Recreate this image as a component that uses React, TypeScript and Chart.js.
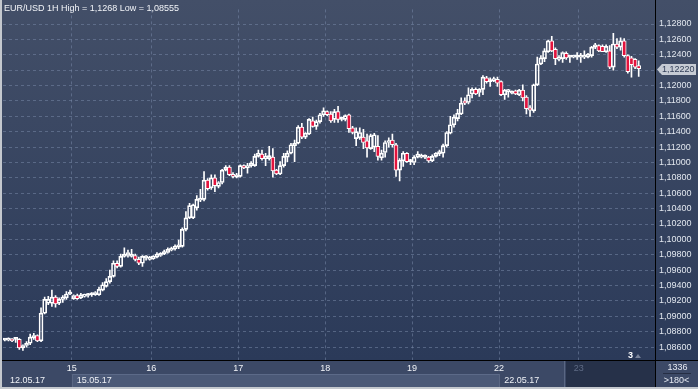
import React, { useEffect, useRef } from 'react';
import { Chart, registerables } from 'chart.js';

Chart.register(...registerables);

const TITLE = 'EUR/USD 1H High = 1,1268 Low = 1,08555';

const OPEN = [
  1.0869, 1.0869, 1.0870, 1.0870, 1.0870, 1.0859, 1.0862, 1.0865, 1.0872, 1.0875,
  1.0868, 1.0904, 1.0917, 1.0917, 1.0925, 1.0917, 1.0922, 1.0924, 1.0929, 1.0923,
  1.0927, 1.0924, 1.0926, 1.0927, 1.0928, 1.0928, 1.0928, 1.0934, 1.0939, 1.0945,
  1.0952, 1.0969, 1.0965, 1.0978, 1.0979, 1.0978, 1.0979, 1.0974, 1.0969, 1.0976,
  1.0974, 1.0975, 1.0977, 1.0979, 1.0981, 1.0983, 1.0986, 1.0988, 1.0990, 1.0991,
  1.1013, 1.1028, 1.1028, 1.1041, 1.1051, 1.1052, 1.1077, 1.1067, 1.1080, 1.1069,
  1.1074, 1.1090, 1.1094, 1.1084, 1.1081, 1.1082, 1.1096, 1.1093, 1.1096, 1.1096,
  1.1108, 1.1111, 1.1105, 1.1105, 1.1107, 1.1090, 1.1085, 1.1096, 1.1107, 1.1112,
  1.1122, 1.1125, 1.1146, 1.1133, 1.1137, 1.1154, 1.1147, 1.1153, 1.1162, 1.1166,
  1.1163, 1.1156, 1.1166, 1.1156, 1.1156, 1.1162, 1.1145, 1.1131, 1.1132, 1.1133,
  1.1128, 1.1118, 1.1120, 1.1121, 1.1106, 1.1113, 1.1126, 1.1129, 1.1123, 1.1090,
  1.1102, 1.1112, 1.1101, 1.1100, 1.1107, 1.1107, 1.1107, 1.1107, 1.1102, 1.1108,
  1.1111, 1.1112, 1.1122, 1.1138, 1.1149, 1.1157, 1.1163, 1.1180, 1.1178, 1.1189,
  1.1195, 1.1191, 1.1195, 1.1210, 1.1205, 1.1206, 1.1208, 1.1205, 1.1188, 1.1192,
  1.1190, 1.1193, 1.1188, 1.1194, 1.1185, 1.1171, 1.1167, 1.1201, 1.1228, 1.1235,
  1.1244, 1.1258, 1.1247, 1.1234, 1.1235, 1.1242, 1.1237, 1.1237, 1.1237, 1.1237,
  1.1237, 1.1237, 1.1239, 1.1250, 1.1252, 1.1251, 1.1244, 1.1245, 1.1224, 1.1254,
  1.1250, 1.1258, 1.1239, 1.1236, 1.1234, 1.1226,
];

const HIGH = [
  1.0871, 1.0872, 1.0871, 1.0872, 1.0871, 1.0863, 1.0867, 1.0877, 1.0878, 1.0876,
  1.0911, 1.0925, 1.0926, 1.0934, 1.0927, 1.0924, 1.0927, 1.0932, 1.0934, 1.0928,
  1.0929, 1.0930, 1.0929, 1.0930, 1.0931, 1.0932, 1.0938, 1.0944, 1.0949, 1.0960,
  1.0972, 1.0972, 1.0981, 1.0989, 1.0986, 1.0987, 1.0981, 1.0977, 1.0979, 1.0979,
  1.0978, 1.0979, 1.0983, 1.0983, 1.0986, 1.0989, 1.0990, 1.0993, 1.0999, 1.1015,
  1.1036, 1.1047, 1.1046, 1.1057, 1.1065, 1.1088, 1.1079, 1.1084, 1.1084, 1.1075,
  1.1091, 1.1096, 1.1096, 1.1087, 1.1086, 1.1097, 1.1097, 1.1099, 1.1101, 1.1111,
  1.1116, 1.1116, 1.1112, 1.1121, 1.1118, 1.1091, 1.1101, 1.1112, 1.1115, 1.1125,
  1.1129, 1.1148, 1.1151, 1.1139, 1.1157, 1.1159, 1.1155, 1.1164, 1.1171, 1.1167,
  1.1166, 1.1169, 1.1173, 1.1159, 1.1162, 1.1163, 1.1147, 1.1145, 1.1145, 1.1143,
  1.1137, 1.1137, 1.1138, 1.1135, 1.1116, 1.1128, 1.1132, 1.1137, 1.1125, 1.1105,
  1.1114, 1.1113, 1.1104, 1.1109, 1.1114, 1.1111, 1.1110, 1.1108, 1.1110, 1.1113,
  1.1116, 1.1124, 1.1140, 1.1160, 1.1162, 1.1169, 1.1184, 1.1184, 1.1197, 1.1197,
  1.1197, 1.1196, 1.1213, 1.1212, 1.1210, 1.1211, 1.1211, 1.1206, 1.1195, 1.1195,
  1.1193, 1.1194, 1.1195, 1.1201, 1.1187, 1.1174, 1.1202, 1.1237, 1.1239, 1.1248,
  1.1259, 1.1264, 1.1249, 1.1239, 1.1244, 1.1244, 1.1239, 1.1239, 1.1243, 1.1242,
  1.1245, 1.1242, 1.1251, 1.1255, 1.1253, 1.1253, 1.1253, 1.1252, 1.1268, 1.1261,
  1.1262, 1.1261, 1.1240, 1.1238, 1.1235, 1.1232,
];

const LOW = [
  1.0868, 1.0868, 1.0867, 1.0866, 1.0857, 1.08555, 1.0860, 1.0863, 1.0870, 1.0867,
  1.0867, 1.0903, 1.0915, 1.0913, 1.0912, 1.0915, 1.0918, 1.0922, 1.0928, 1.0922,
  1.0922, 1.0923, 1.0925, 1.0925, 1.0926, 1.0927, 1.0927, 1.0933, 1.0938, 1.0943,
  1.0951, 1.0963, 1.0964, 1.0977, 1.0977, 1.0977, 1.0972, 1.0967, 1.0965, 1.0973,
  1.0973, 1.0974, 1.0976, 1.0978, 1.0980, 1.0982, 1.0985, 1.0986, 1.0988, 1.0990,
  1.1011, 1.1027, 1.1027, 1.1038, 1.1049, 1.1050, 1.1064, 1.1065, 1.1062, 1.1067,
  1.1072, 1.1089, 1.1083, 1.1080, 1.1080, 1.1081, 1.1092, 1.1086, 1.1094, 1.1095,
  1.1107, 1.1103, 1.1096, 1.1103, 1.1081, 1.1084, 1.1084, 1.1094, 1.1101, 1.1111,
  1.1101, 1.1124, 1.1131, 1.1131, 1.1136, 1.1146, 1.1143, 1.1151, 1.1160, 1.1161,
  1.1152, 1.1152, 1.1152, 1.1154, 1.1154, 1.1139, 1.1137, 1.1122, 1.1130, 1.1118,
  1.1107, 1.1117, 1.1114, 1.1103, 1.1103, 1.1107, 1.1120, 1.1120, 1.1082, 1.1076,
  1.1095, 1.1100, 1.1097, 1.1097, 1.1106, 1.1106, 1.1105, 1.1100, 1.1101, 1.1107,
  1.1109, 1.1107, 1.1120, 1.1137, 1.1146, 1.1154, 1.1162, 1.1175, 1.1176, 1.1184,
  1.1188, 1.1186, 1.1188, 1.1203, 1.1199, 1.1205, 1.1199, 1.1187, 1.1182, 1.1185,
  1.1189, 1.1188, 1.1187, 1.1180, 1.1163, 1.1160, 1.1165, 1.1200, 1.1227, 1.1231,
  1.1243, 1.1244, 1.1227, 1.1232, 1.1230, 1.1234, 1.1230, 1.1236, 1.1234, 1.1230,
  1.1235, 1.1236, 1.1237, 1.1248, 1.1244, 1.1244, 1.1243, 1.1222, 1.1220, 1.1248,
  1.1246, 1.1237, 1.1216, 1.1211, 1.1222, 1.1212,
];

const CLOSE = [
  1.0870, 1.0871, 1.0868, 1.0871, 1.0859, 1.0862, 1.0865, 1.0873, 1.0875, 1.0868,
  1.0904, 1.0922, 1.0922, 1.0925, 1.0916, 1.0922, 1.0925, 1.0929, 1.0931, 1.0927,
  1.0923, 1.0928, 1.0928, 1.0928, 1.0929, 1.0931, 1.0935, 1.0941, 1.0945, 1.0952,
  1.0969, 1.0965, 1.0978, 1.0981, 1.0983, 1.0981, 1.0974, 1.0969, 1.0978, 1.0978,
  1.0977, 1.0978, 1.0981, 1.0982, 1.0984, 1.0987, 1.0988, 1.0991, 1.0993, 1.1013,
  1.1028, 1.1044, 1.1045, 1.1052, 1.1053, 1.1077, 1.1066, 1.1080, 1.1070, 1.1074,
  1.1090, 1.1094, 1.1084, 1.1082, 1.1084, 1.1096, 1.1093, 1.1096, 1.1099, 1.1108,
  1.1112, 1.1105, 1.1108, 1.1109, 1.1089, 1.1085, 1.1096, 1.1108, 1.1112, 1.1123,
  1.1125, 1.1146, 1.1133, 1.1138, 1.1156, 1.1147, 1.1153, 1.1162, 1.1167, 1.1162,
  1.1154, 1.1166, 1.1156, 1.1157, 1.1161, 1.1144, 1.1139, 1.1140, 1.1139, 1.1126,
  1.1119, 1.1135, 1.1136, 1.1108, 1.1112, 1.1126, 1.1128, 1.1123, 1.1090, 1.1103,
  1.1112, 1.1101, 1.1102, 1.1107, 1.1111, 1.1109, 1.1108, 1.1102, 1.1108, 1.1112,
  1.1114, 1.1122, 1.1139, 1.1149, 1.1159, 1.1164, 1.1177, 1.1177, 1.1188, 1.1195,
  1.1189, 1.1195, 1.1211, 1.1205, 1.1206, 1.1209, 1.1203, 1.1188, 1.1194, 1.1194,
  1.1191, 1.1189, 1.1194, 1.1184, 1.1170, 1.1168, 1.1201, 1.1228, 1.1236, 1.1245,
  1.1258, 1.1245, 1.1235, 1.1236, 1.1243, 1.1236, 1.1238, 1.1239, 1.1238, 1.1239,
  1.1239, 1.1241, 1.1250, 1.1253, 1.1245, 1.1244, 1.1251, 1.1224, 1.1254, 1.1250,
  1.1258, 1.1239, 1.1218, 1.1227, 1.1224, 1.1222,
];

const SLOT_COUNT = 180;
const DAY_START = [19, 41, 65, 89, 113, 137, 159];
const DAY_LABELS = ['15', '16', '17', '18', '19', '22', '23'];
const DATE_START = [0, 19, 137];
const DATE_LABELS = ['12.05.17', '15.05.17', '22.05.17'];
const Y_MIN = 1.08432;
const Y_MAX = 1.1299;
const Y_STEP = 0.002;
const BAR_TOTAL_TEXT = '1336';
const VISIBLE_TEXT = '>180<';
const MARKER_TEXT = '3';

const FONT = '"Liberation Sans", Arial, sans-serif';
const RED = '#e3133d';
const GRID = 'rgba(118,134,166,0.55)';

const fmt = (v: number) => v.toFixed(5).replace('.', ',');

export default function App() {
  const ref = useRef<HTMLCanvasElement | null>(null);

  useEffect(() => {
    const canvas = ref.current;
    if (!canvas) return;
    const labels = Array.from({ length: SLOT_COUNT }, (_, i) => String(i));
    const bodies = CLOSE.map((c, i) => [Math.min(OPEN[i], c), Math.max(OPEN[i], c)]);
    const upper = CLOSE.map((c, i) => [Math.max(OPEN[i], c), HIGH[i]]);
    const lower = CLOSE.map((c, i) => [LOW[i], Math.min(OPEN[i], c)]);
    const bodyFill = CLOSE.map((c, i) => (c < OPEN[i] ? RED : 'rgba(0,0,0,0)'));

    const decor = {
      id: 'decor',
      beforeDraw(chart: any) {
        const { ctx, chartArea: a, width: W, height: H } = chart;
        const slot = a.width / SLOT_COUNT;
        ctx.save();
        const g = ctx.createLinearGradient(0, 0, 0, a.bottom);
        g.addColorStop(0, '#434f68');
        g.addColorStop(1, '#2b3a59');
        ctx.fillStyle = g;
        ctx.fillRect(0, 0, W, a.bottom);
        // bottom strip
        ctx.fillStyle = '#3c4966';
        ctx.fillRect(0, a.bottom, W, H - a.bottom);
        const rowTop = a.bottom + 14;
        const darkStart = 566;
        DATE_START.forEach((s, k) => {
          const x0 = s === 0 ? 0 : a.left + s * slot;
          const x1 = k + 1 < DATE_START.length ? a.left + DATE_START[k + 1] * slot : darkStart;
          if (k % 2 === 1) {
            ctx.fillStyle = '#4b5977';
            ctx.fillRect(x0, rowTop, x1 - x0, H - rowTop);
            ctx.fillStyle = '#5c6a88';
            ctx.fillRect(x0, rowTop, x1 - x0, 1);
          }
          ctx.fillStyle = '#5a6783';
          if (s !== 0) ctx.fillRect(Math.round(x0), rowTop, 1, H - rowTop);
        });
        ctx.fillStyle = '#5a6783';
        ctx.fillRect(darkStart - 2, a.bottom + 1, 1, H - a.bottom);
        ctx.fillStyle = '#263149';
        ctx.fillRect(darkStart, a.bottom + 1, a.right - darkStart, H - a.bottom - 1);
        ctx.restore();
      },
      afterDraw(chart: any) {
        const { ctx, chartArea: a, width: W, height: H } = chart;
        const slot = a.width / SLOT_COUNT;
        const ys = chart.scales.y;
        ctx.save();
        // black separators
        ctx.fillStyle = '#000000';
        ctx.fillRect(0, a.bottom, W, 1);
        ctx.fillRect(a.right, 0, 1, H);
        // title
        ctx.font = `9px ${FONT}`;
        ctx.fillStyle = '#f2f4f8';
        ctx.textAlign = 'left';
        ctx.textBaseline = 'alphabetic';
        ctx.fillText(TITLE, 4, 11);
        // date row
        ctx.fillStyle = '#eef1f6';
        DATE_START.forEach((s, k) => {
          const x0 = a.left + s * slot;
          ctx.fillText(DATE_LABELS[k], x0 + (s === 0 ? 7 : 5), a.bottom + 23);
        });
        // last price marker
        const last = CLOSE[CLOSE.length - 1];
        const py = Math.round(ys.getPixelForValue(last)) + 0.5;
        const bx = a.right + 2;
        ctx.fillStyle = '#c6cbd4';
        ctx.beginPath();
        ctx.moveTo(bx, py);
        ctx.lineTo(bx + 5, py - 5.5);
        ctx.lineTo(W - 2, py - 5.5);
        ctx.lineTo(W - 2, py + 5.5);
        ctx.lineTo(bx + 5, py + 5.5);
        ctx.closePath();
        ctx.fill();
        ctx.fillStyle = '#34405a';
        ctx.textBaseline = 'middle';
        ctx.fillText(fmt(last), bx + 5, py + 0.5);
        // marker "3"
        ctx.textBaseline = 'alphabetic';
        ctx.fillStyle = '#ffffff';
        ctx.font = `bold 9px ${FONT}`;
        ctx.fillText(MARKER_TEXT, 628, 358);
        ctx.fillStyle = '#7a849a';
        ctx.beginPath();
        ctx.moveTo(635, 358);
        ctx.lineTo(641, 358);
        ctx.lineTo(638, 354);
        ctx.closePath();
        ctx.fill();
        // bottom-right box
        ctx.font = `9px ${FONT}`;
        ctx.textAlign = 'center';
        ctx.fillStyle = '#e6eaf2';
        const cx = (a.right + W) / 2;
        ctx.fillText(BAR_TOTAL_TEXT, cx + 1, a.bottom + 10);
        ctx.fillStyle = '#252e44';
        ctx.fillRect(a.right + 8, a.bottom + 13, 28, 1);
        ctx.fillStyle = '#e6eaf2';
        ctx.fillText(VISIBLE_TEXT, cx, a.bottom + 23);
        // light frame
        ctx.fillStyle = '#c4c8ce';
        ctx.fillRect(0, 0, 2, H);
        ctx.fillRect(0, H - 2, W, 2);
        ctx.restore();
      },
    };

    const chart = new Chart(canvas, {
      type: 'bar',
      data: {
        labels,
        datasets: [
          {
            data: bodies as any,
            backgroundColor: bodyFill,
            borderColor: '#ffffff',
            borderWidth: 1,
            borderSkipped: false,
            barThickness: 4,
            minBarLength: 2,
            grouped: false,
            order: 1,
          } as any,
          {
            data: upper as any,
            backgroundColor: '#ffffff',
            borderWidth: 0,
            barThickness: 1,
            grouped: false,
            order: 2,
          } as any,
          {
            data: lower as any,
            backgroundColor: '#ffffff',
            borderWidth: 0,
            barThickness: 1,
            grouped: false,
            order: 2,
          } as any,
        ],
      },
      options: {
        responsive: false,
        animation: false,
        devicePixelRatio: 1,
        layout: { padding: { left: 3, top: 1, right: 0, bottom: 0 } },
        plugins: { legend: { display: false }, tooltip: { enabled: false }, title: { display: false } },
        scales: {
          x: {
            type: 'category',
            offset: true,
            grid: {
              offset: true,
              drawTicks: false,
              lineWidth: 1,
              color: (c: any) => (DAY_START.includes(c.index) ? GRID : 'rgba(0,0,0,0)'),
            },
            border: { display: false, dash: [3, 3] },
            ticks: {
              autoSkip: false,
              maxRotation: 0,
              minRotation: 0,
              padding: 3,
              labelOffset: -2,
              font: { family: FONT, size: 9 },
              color: (c: any) => (c.index === DAY_START[DAY_START.length - 1] ? '#5f6b85' : '#f2f4f8'),
              callback: (_v: any, i: number) => {
                const k = DAY_START.indexOf(i);
                return k >= 0 ? DAY_LABELS[k] : '';
              },
            },
            afterFit: (s: any) => {
              s.height = 29;
            },
          },
          y: {
            type: 'linear',
            position: 'right',
            min: Y_MIN,
            max: Y_MAX,
            grid: { drawTicks: false, lineWidth: 1, color: GRID },
            border: { display: false, dash: [3, 3] },
            ticks: {
              stepSize: Y_STEP,
              includeBounds: false,
              autoSkip: false,
              padding: 4,
              color: '#e2e7ef',
              font: { family: FONT, size: 9 },
              callback: (v: any) => fmt(Number(v)),
            },
            afterFit: (s: any) => {
              s.width = 43;
            },
          },
        },
      } as any,
      plugins: [decor],
    });
    return () => chart.destroy();
  }, []);

  return (
    <div style={{ position: 'fixed', left: 0, top: 0, width: 698, height: 389 }}>
      <canvas ref={ref} width={698} height={389} style={{ display: 'block', width: 698, height: 389 }} />
    </div>
  );
}
